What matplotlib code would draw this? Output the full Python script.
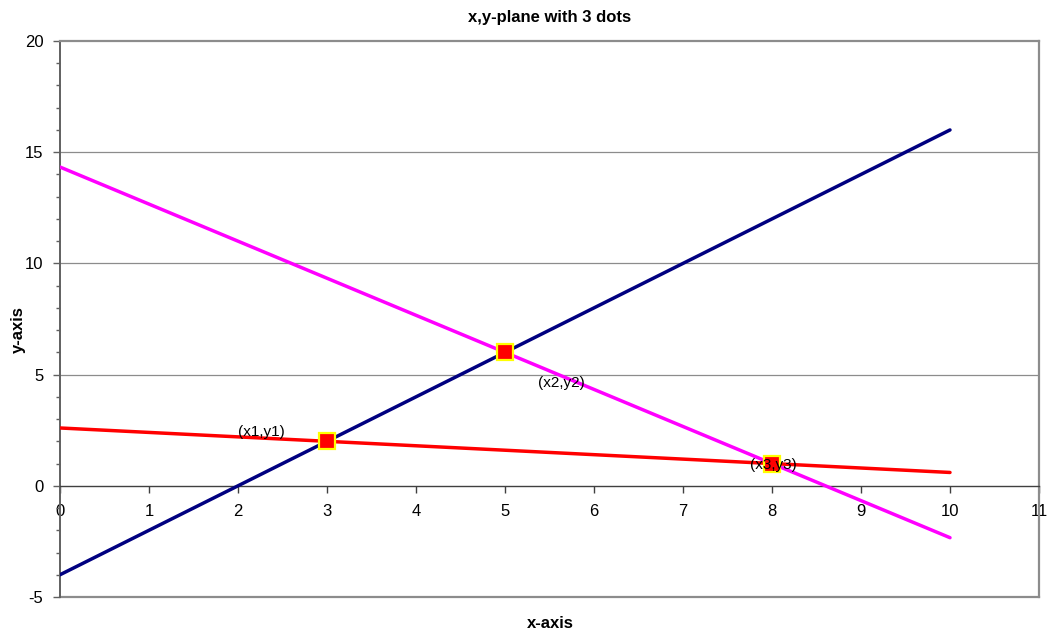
import matplotlib.pyplot as plt
from matplotlib.ticker import MultipleLocator

plt.rcParams['font.family'] = ['Liberation Sans', 'DejaVu Sans']
plt.rcParams['axes.unicode_minus'] = False

# the three dots
dot_x = [3, 5, 8]
dot_y = [2, 6, 1]
dot_labels = ['(x1,y1)', '(x2,y2)', '(x3,y3)']
label_x = [2.26, 5.63, 8.01]
label_y = [2.43, 4.6, 0.95]

# line endpoints
line_x = [0, 10]
navy_y = [-4, 16]
magenta_y = [14.333, -2.333]
red_y = [2.6, 0.6]

fig = plt.figure(figsize=(10.49, 6.36), dpi=100)
ax = fig.add_axes([60 / 1049, 1 - 597 / 636, 979 / 1049, 556 / 636])

ax.set_xlim(0, 11)
ax.set_ylim(-5, 20)

for g in [5, 10, 15]:
    ax.axhline(g, color='#8c8c8c', lw=0.9, zorder=0)
ax.axhline(-5, color='#8c8c8c', lw=1.6, zorder=1, clip_on=False)

ax.plot(line_x, navy_y, color='#000080', lw=2.5, solid_capstyle='round', zorder=3)
ax.plot(line_x, magenta_y, color='#ff00ff', lw=2.5, solid_capstyle='round', zorder=3)
ax.plot(line_x, red_y, color='#ff0000', lw=2.5, solid_capstyle='round', zorder=3)

ax.plot(dot_x, dot_y, 's', ms=11, mfc='#ff0000', mec='#ffff00', mew=1.6, zorder=5)
for lx, ly, t in zip(label_x, label_y, dot_labels):
    ax.text(lx, ly, t, ha='center', va='center', fontsize=11, zorder=6)

# x axis crosses at y=0
ax.spines['bottom'].set_position(('data', 0))
ax.spines['bottom'].set_color('#404040')
ax.spines['bottom'].set_linewidth(1.0)
ax.spines['left'].set_color('#606060')
ax.spines['left'].set_linewidth(1.4)
for s in ['top', 'right']:
    ax.spines[s].set_color('#8c8c8c')
    ax.spines[s].set_linewidth(1.6)

ax.xaxis.set_major_locator(MultipleLocator(1))
ax.yaxis.set_major_locator(MultipleLocator(5))
ax.yaxis.set_minor_locator(MultipleLocator(1))
ax.tick_params(axis='x', direction='out', length=5, width=1, color='#404040',
               labelsize=12, pad=8)
ax.tick_params(axis='y', which='major', direction='out', length=5, width=1,
               color='#606060', labelsize=12, pad=7)
ax.tick_params(axis='y', which='minor', direction='out', length=3, width=1,
               color='#606060')

ax.set_title('x,y-plane with 3 dots', fontsize=12, fontweight='bold', pad=14)
fig.text(550 / 1049, 1 - 623 / 636, 'x-axis', ha='center', va='center',
         fontsize=12, fontweight='bold')
fig.text(18 / 1049, 1 - 330 / 636, 'y-axis', ha='center', va='center',
         rotation=90, fontsize=12, fontweight='bold')

fig.savefig('out.png', dpi=100)
